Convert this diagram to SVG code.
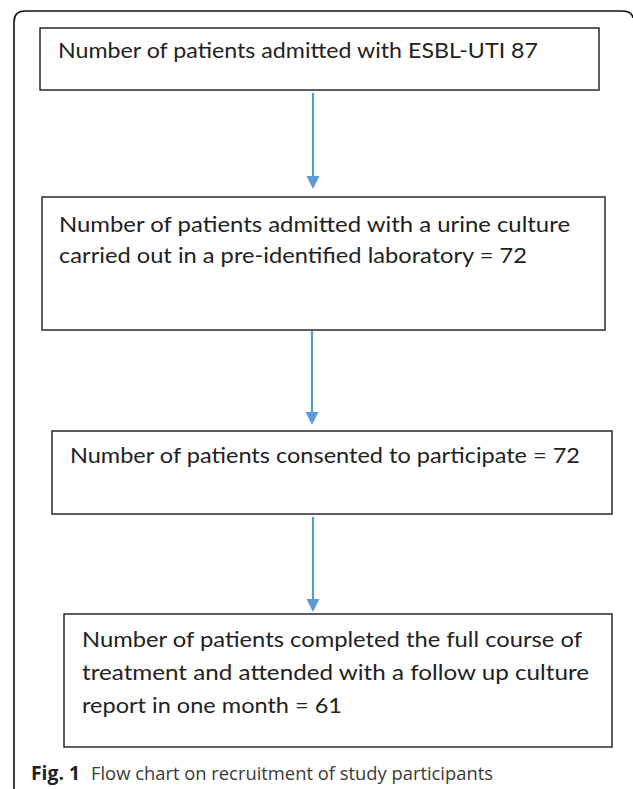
<svg xmlns="http://www.w3.org/2000/svg" width="633" height="789" viewBox="0 0 633 789">
<style>
.box{fill:#fff;stroke:#2a2a2a;stroke-width:1.5}
.t{font-family:Lato,"Open Sans","Liberation Sans",sans-serif;font-size:22px;fill:#222}
.cap{font-family:"Open Sans","Liberation Sans",sans-serif;font-size:19px;fill:#3a3a3a}
.conn{stroke:#5b9bd5;stroke-width:2.2;fill:none}
.head{fill:#5b9bd5}
</style>
<rect width="633" height="789" fill="#fff"/>
<path d="M14,789 V22 Q14,11 25,11 H622 Q632,11 633,18" fill="none" stroke="#111" stroke-width="1.6"/>
<g id="node1">
<rect class="box" x="40" y="28" width="559" height="62"/>
<text class="t" x="58" y="58" textLength="480" lengthAdjust="spacingAndGlyphs">Number of patients admitted with ESBL-UTI 87</text>
</g>
<g id="node2">
<rect class="box" x="42" y="197" width="563" height="133"/>
<text class="t" x="59" y="232" textLength="511" lengthAdjust="spacingAndGlyphs">Number of patients admitted with a urine culture</text>
<text class="t" x="59" y="263" textLength="468" lengthAdjust="spacingAndGlyphs">carried out in a pre-identified laboratory = 72</text>
</g>
<g id="node3">
<rect class="box" x="52" y="431" width="560" height="83"/>
<text class="t" x="70" y="463" textLength="510" lengthAdjust="spacingAndGlyphs">Number of patients consented to participate = 72</text>
</g>
<g id="node4">
<rect class="box" x="64" y="614" width="548" height="133"/>
<text class="t" x="82" y="647" textLength="500" lengthAdjust="spacingAndGlyphs">Number of patients completed the full course of</text>
<text class="t" x="82" y="680" textLength="507" lengthAdjust="spacingAndGlyphs">treatment and attended with a follow up culture</text>
<text class="t" x="82" y="713" textLength="260" lengthAdjust="spacingAndGlyphs">report in one month = 61</text>
</g>
<g id="connectors">
<path class="conn" d="M313,93 V177"/>
<path class="head" d="M306.5,176 H319.5 L313,189 Z"/>
<path class="conn" d="M312,331 V413"/>
<path class="head" d="M305.5,412 H318.5 L312,425 Z"/>
<path class="conn" d="M313,517 V600"/>
<path class="head" d="M306.5,599 H319.5 L313,612 Z"/>
</g>
<g id="caption">
<text class="cap" x="31" y="780"><tspan font-weight="bold" fill="#222" textLength="49" lengthAdjust="spacingAndGlyphs">Fig. 1</tspan><tspan x="91" textLength="402" lengthAdjust="spacingAndGlyphs">Flow chart on recruitment of study participants</tspan></text>
</g>
</svg>
